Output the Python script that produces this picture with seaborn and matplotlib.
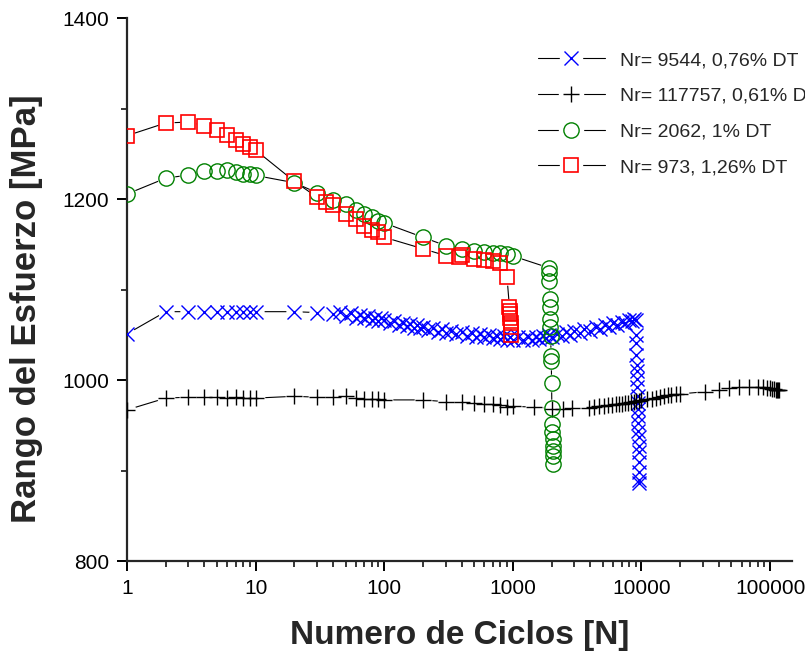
import numpy as np
import matplotlib
matplotlib.use("Agg")
import matplotlib.pyplot as plt
import seaborn as sns
from matplotlib.lines import Line2D
from matplotlib.legend_handler import HandlerTuple
from matplotlib.ticker import FixedLocator, LogLocator, NullFormatter, MultipleLocator, FuncFormatter

# ---- data ----
# Nr= 9544, 0,76% DT  (blue x)
n_blue = [1, 2, 3, 4, 5, 6, 7, 8, 9, 10, 20, 30, 40, 45, 50, 55, 60, 65, 70, 75, 80, 85, 90, 95,
          100, 110, 120, 130, 140, 150, 160, 170, 180, 190, 200, 220, 240, 260, 280, 300, 330,
          360, 400, 440, 480, 520, 560, 600, 650, 700, 750, 800, 850, 900, 950, 1000, 1100,
          1200, 1300, 1400, 1500, 1600, 1700, 1800, 1900, 2000, 2200, 2400, 2600, 2800, 3000,
          3300, 3600, 4000, 4400, 4800, 5200, 5600, 6000, 6500, 7000, 7500, 8000, 8500, 8800,
          9000, 9060, 9100, 9140, 9180, 9220, 9260, 9300, 9330, 9360, 9390, 9420, 9445, 9465,
          9485, 9500, 9515, 9525, 9535, 9540, 9544]
s_blue = [1051, 1075.5, 1075.5, 1075.5, 1075.5, 1075.5, 1075.5, 1075.5, 1075.5, 1075.5, 1075.5,
          1074.5, 1073, 1075, 1071, 1073.5, 1069, 1071.5, 1068, 1070.5, 1066, 1069, 1065,
          1068, 1066, 1063, 1065, 1061, 1063.5, 1059.5, 1062, 1058, 1060.5, 1057, 1059,
          1055.5, 1058, 1053.5, 1056, 1052, 1054.5, 1050.5, 1053, 1049, 1052, 1048, 1051,
          1047, 1050, 1046, 1049, 1045, 1048.5, 1044.5, 1048, 1044, 1047.5, 1044, 1047.5,
          1044.5, 1048, 1045, 1049, 1046, 1050, 1047, 1051, 1048.5, 1052.5, 1050, 1054.5,
          1052, 1056.5, 1054.5, 1058.5, 1056.5, 1060.5, 1058.5, 1062.5, 1061, 1064.5, 1063,
          1066, 1065, 1067.5, 1066, 1050, 1041, 1028, 1017, 1010, 1001, 992, 982, 975, 968,
          960, 953, 944, 937, 927, 920, 909, 898, 889, 886]

# Nr= 117757, 0,61% DT  (black +)
n_black = [1, 2, 3, 4, 5, 6, 7, 8, 9, 10, 20, 30, 40, 50, 60, 70, 80, 90, 100, 200, 300, 400,
           500, 600, 700, 800, 900, 1000, 1450, 2000, 2450, 2900, 3900, 4300, 4700, 5100, 5500,
           5900, 6300, 6700, 7100, 7500, 7900, 8300, 8700, 9100, 9500, 10000, 11000, 12000,
           13000, 14000, 15000, 16000, 17000, 18500, 20000, 31000, 40000, 47500, 57000, 68000,
           80000, 88000, 95000, 100000, 104000, 108000, 111000, 114000, 116000, 117757]
s_black = [967, 980, 981, 981, 981, 980.5, 981, 980.5, 980.5, 980, 982, 981, 981, 982.5, 980.5,
           979.5, 978.5, 978.5, 978, 978, 976, 975.5, 974.5, 974, 973, 972.5, 970.6, 971,
           970, 968.5, 968.5, 968.6, 968.6, 970, 971, 971.5, 972, 972.5, 973, 973.5, 974, 974.5,
           975, 975.5, 976, 976.5, 977, 978, 978.5, 979.5, 980, 981, 982, 983, 983.5, 984,
           984.6, 987, 989, 991, 992, 992, 992, 992, 991.5, 991, 990.5, 990, 989.5, 989.5,
           989, 989]

# Nr= 2062, 1% DT  (green o)
n_green = [1, 2, 3, 4, 5, 6, 7, 8, 9, 10, 20, 30, 40, 50, 60, 70, 80, 90, 100, 200, 300, 400,
           500, 600, 700, 800, 900, 1000, 1900, 1910, 1920, 1930, 1940, 1950, 1960, 1970,
           1980, 1990, 2000, 2010, 2020, 2030, 2040, 2045, 2050, 2055, 2062]
s_green = [1205.5, 1223, 1226.5, 1230.5, 1230.5, 1231.5, 1230, 1228, 1228, 1226, 1218, 1207,
           1199, 1195, 1188, 1183, 1180, 1175.5, 1173.5, 1157.7, 1148.5, 1145, 1142, 1141,
           1140.5, 1140.5, 1139.5, 1137, 1124, 1118.5, 1109, 1089, 1081, 1067, 1059, 1048.5,
           1026.5, 1021, 997, 969.5, 951, 942, 934.5, 927, 921.5, 916, 907]

# Nr= 973, 1,26% DT  (red squares)
n_red = [1, 2, 3, 4, 5, 6, 7, 8, 9, 10, 20, 30, 35, 40, 50, 60, 70, 80, 90, 100, 200, 300,
         380, 400, 500, 600, 700, 800, 900, 940, 945, 950, 955, 960, 965, 973]
s_red = [1270, 1284, 1285, 1281, 1276, 1271, 1265.5, 1261, 1257, 1254, 1219.5, 1202, 1197,
         1193, 1183, 1178, 1170.5, 1166, 1163.5, 1157.7, 1145, 1137.5, 1136, 1138.5, 1134,
         1133, 1131, 1129.5, 1114, 1081, 1076, 1072.5, 1069, 1063, 1059, 1050]

labels = ["Nr= 9544, 0,76% DT", "Nr= 117757, 0,61% DT", "Nr= 2062, 1% DT", "Nr= 973, 1,26% DT"]

sns.set_style("ticks")
plt.rcParams['font.family'] = ['Liberation Sans', 'DejaVu Sans']

fig = plt.figure(figsize=(8.05, 6.56), dpi=100)
ax = fig.add_axes([127 / 805, 1 - 561 / 656, 665 / 805, 543 / 656])

series = [
    (n_blue, s_blue, 'x', '#0000FF', 10, 1.0),
    (n_black, s_black, '+', 'black', 11, 1.0),
    (n_green, s_green, 'o', '#008000', 11, 1.0),
    (n_red, s_red, 's', '#FF0000', 10, 1.2),
]

handles = []
for n, s, mk, col, ms, mew in series:
    # connecting line with gaps round each marker
    sns.lineplot(x=n, y=s, ax=ax, color='black', linewidth=0.8, estimator=None, sort=False,
                 marker='o', markersize=ms + 1, markerfacecolor='white',
                 markeredgecolor='white', zorder=2)
    sns.lineplot(x=n, y=s, ax=ax, linestyle='none', estimator=None, sort=False,
                 marker=mk, markersize=ms, markerfacecolor='none', markeredgecolor=col,
                 markeredgewidth=mew, zorder=3)
    h_line = Line2D([], [], color='black', linewidth=0.8, marker='s', markersize=ms + 6,
                    markerfacecolor='white', markeredgecolor='white')
    h_mark = Line2D([], [], linestyle='none', marker=mk, markersize=ms,
                    markerfacecolor='none', markeredgecolor=col, markeredgewidth=mew)
    handles.append((h_line, h_mark))

ax.set_xscale('log')
ax.set_xlim(1, 148000)
ax.set_ylim(800, 1400)

ax.xaxis.set_major_locator(FixedLocator([1, 10, 100, 1000, 10000, 100000]))
ax.xaxis.set_major_formatter(FuncFormatter(lambda v, p: f"{int(round(v))}"))
ax.xaxis.set_minor_locator(LogLocator(base=10, subs=np.arange(2, 10)))
ax.xaxis.set_minor_formatter(NullFormatter())
ax.yaxis.set_major_locator(FixedLocator([800, 1000, 1200, 1400]))
ax.yaxis.set_minor_locator(MultipleLocator(100))

for side in ['top', 'right']:
    ax.spines[side].set_visible(False)
for side in ['left', 'bottom']:
    ax.spines[side].set_linewidth(1.6)
ax.tick_params(which='major', direction='out', length=7, width=1.4, labelsize=15, pad=6,
               color='black', labelcolor='black')
ax.tick_params(which='minor', direction='out', length=4, width=1.1, color='black')

ax.set_xlabel("Numero de Ciclos [N]", fontsize=24, fontweight='bold', labelpad=16)
ax.set_ylabel("Rango del Esfuerzo [MPa]", fontsize=25, fontweight='bold')
ax.yaxis.set_label_coords(-0.127, 0.465)

ax.legend(handles, labels, loc='upper left', bbox_to_anchor=(0.591, 0.9705), frameon=False,
          fontsize=14, handlelength=3.45, labelspacing=0.93, handletextpad=0.8,
          handler_map={tuple: HandlerTuple(ndivide=1)})

fig.savefig("out.png", dpi=100)
